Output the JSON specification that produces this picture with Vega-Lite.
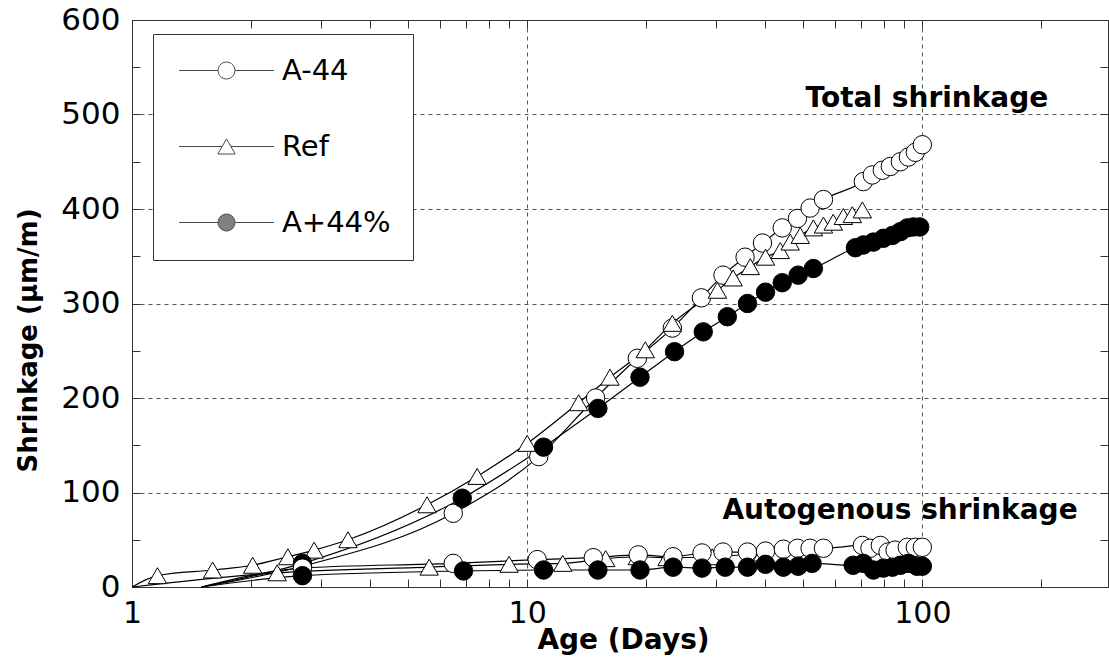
{
  "$schema": "https://vega.github.io/schema/vega-lite/v6.json",
  "width": 976,
  "height": 567,
  "autosize": "none",
  "padding": {"left": 132, "top": 20, "right": 1, "bottom": 73},
  "background": "white",
  "config": {
    "view": {"stroke": null},
    "font": "DejaVu Sans"
  },
  "data": {
    "values": [
      {"age": 1.5, "shrinkage": 0, "mix": "A-44", "type": "Total"},
      {"age": 2.7, "shrinkage": 22, "mix": "A-44", "type": "Total"},
      {"age": 6.5, "shrinkage": 78, "mix": "A-44", "type": "Total"},
      {"age": 10.7, "shrinkage": 138, "mix": "A-44", "type": "Total"},
      {"age": 14.9, "shrinkage": 200, "mix": "A-44", "type": "Total"},
      {"age": 19.0, "shrinkage": 242, "mix": "A-44", "type": "Total"},
      {"age": 23.3, "shrinkage": 274, "mix": "A-44", "type": "Total"},
      {"age": 27.6, "shrinkage": 306, "mix": "A-44", "type": "Total"},
      {"age": 31.3, "shrinkage": 330, "mix": "A-44", "type": "Total"},
      {"age": 35.6, "shrinkage": 349, "mix": "A-44", "type": "Total"},
      {"age": 39.4, "shrinkage": 364, "mix": "A-44", "type": "Total"},
      {"age": 44.2, "shrinkage": 380, "mix": "A-44", "type": "Total"},
      {"age": 48.3, "shrinkage": 390, "mix": "A-44", "type": "Total"},
      {"age": 52.0, "shrinkage": 401, "mix": "A-44", "type": "Total"},
      {"age": 56.2, "shrinkage": 410, "mix": "A-44", "type": "Total"},
      {"age": 70.9, "shrinkage": 429, "mix": "A-44", "type": "Total"},
      {"age": 74.7, "shrinkage": 436, "mix": "A-44", "type": "Total"},
      {"age": 79.2, "shrinkage": 441, "mix": "A-44", "type": "Total"},
      {"age": 83.0, "shrinkage": 445, "mix": "A-44", "type": "Total"},
      {"age": 88.0, "shrinkage": 450, "mix": "A-44", "type": "Total"},
      {"age": 92.2, "shrinkage": 455, "mix": "A-44", "type": "Total"},
      {"age": 96.0, "shrinkage": 460, "mix": "A-44", "type": "Total"},
      {"age": 100, "shrinkage": 468, "mix": "A-44", "type": "Total"},

      {"age": 1.0, "shrinkage": 0, "mix": "Ref", "type": "Total"},
      {"age": 1.16, "shrinkage": 12, "mix": "Ref", "type": "Total"},
      {"age": 1.6, "shrinkage": 18, "mix": "Ref", "type": "Total"},
      {"age": 2.02, "shrinkage": 23, "mix": "Ref", "type": "Total"},
      {"age": 2.48, "shrinkage": 32, "mix": "Ref", "type": "Total"},
      {"age": 2.89, "shrinkage": 39, "mix": "Ref", "type": "Total"},
      {"age": 3.52, "shrinkage": 50, "mix": "Ref", "type": "Total"},
      {"age": 5.58, "shrinkage": 87, "mix": "Ref", "type": "Total"},
      {"age": 7.47, "shrinkage": 117, "mix": "Ref", "type": "Total"},
      {"age": 10.0, "shrinkage": 152, "mix": "Ref", "type": "Total"},
      {"age": 13.5, "shrinkage": 195, "mix": "Ref", "type": "Total"},
      {"age": 16.2, "shrinkage": 222, "mix": "Ref", "type": "Total"},
      {"age": 19.9, "shrinkage": 251, "mix": "Ref", "type": "Total"},
      {"age": 23.3, "shrinkage": 279, "mix": "Ref", "type": "Total"},
      {"age": 30.3, "shrinkage": 314, "mix": "Ref", "type": "Total"},
      {"age": 33.2, "shrinkage": 327, "mix": "Ref", "type": "Total"},
      {"age": 36.7, "shrinkage": 339, "mix": "Ref", "type": "Total"},
      {"age": 40.1, "shrinkage": 349, "mix": "Ref", "type": "Total"},
      {"age": 43.7, "shrinkage": 356, "mix": "Ref", "type": "Total"},
      {"age": 46.3, "shrinkage": 365, "mix": "Ref", "type": "Total"},
      {"age": 49.1, "shrinkage": 372, "mix": "Ref", "type": "Total"},
      {"age": 53.0, "shrinkage": 380, "mix": "Ref", "type": "Total"},
      {"age": 56.2, "shrinkage": 383, "mix": "Ref", "type": "Total"},
      {"age": 59.5, "shrinkage": 386, "mix": "Ref", "type": "Total"},
      {"age": 63.1, "shrinkage": 392, "mix": "Ref", "type": "Total"},
      {"age": 66.5, "shrinkage": 394, "mix": "Ref", "type": "Total"},
      {"age": 70.5, "shrinkage": 399, "mix": "Ref", "type": "Total"},

      {"age": 1.5, "shrinkage": 0, "mix": "A+44%", "type": "Total"},
      {"age": 2.7, "shrinkage": 25, "mix": "A+44%", "type": "Total"},
      {"age": 6.85, "shrinkage": 94, "mix": "A+44%", "type": "Total"},
      {"age": 11.0, "shrinkage": 148, "mix": "A+44%", "type": "Total"},
      {"age": 15.1, "shrinkage": 189, "mix": "A+44%", "type": "Total"},
      {"age": 19.3, "shrinkage": 222, "mix": "A+44%", "type": "Total"},
      {"age": 23.6, "shrinkage": 249, "mix": "A+44%", "type": "Total"},
      {"age": 27.9, "shrinkage": 270, "mix": "A+44%", "type": "Total"},
      {"age": 32.1, "shrinkage": 286, "mix": "A+44%", "type": "Total"},
      {"age": 36.1, "shrinkage": 300, "mix": "A+44%", "type": "Total"},
      {"age": 40.1, "shrinkage": 312, "mix": "A+44%", "type": "Total"},
      {"age": 44.2, "shrinkage": 322, "mix": "A+44%", "type": "Total"},
      {"age": 48.5, "shrinkage": 330, "mix": "A+44%", "type": "Total"},
      {"age": 53.0, "shrinkage": 337, "mix": "A+44%", "type": "Total"},
      {"age": 67.7, "shrinkage": 359, "mix": "A+44%", "type": "Total"},
      {"age": 70.9, "shrinkage": 362, "mix": "A+44%", "type": "Total"},
      {"age": 75.2, "shrinkage": 365, "mix": "A+44%", "type": "Total"},
      {"age": 79.7, "shrinkage": 369, "mix": "A+44%", "type": "Total"},
      {"age": 84.0, "shrinkage": 372, "mix": "A+44%", "type": "Total"},
      {"age": 88.0, "shrinkage": 376, "mix": "A+44%", "type": "Total"},
      {"age": 91.6, "shrinkage": 380, "mix": "A+44%", "type": "Total"},
      {"age": 94.9, "shrinkage": 381, "mix": "A+44%", "type": "Total"},
      {"age": 98.5, "shrinkage": 381, "mix": "A+44%", "type": "Total"},

      {"age": 1.0, "shrinkage": 0, "mix": "Ref", "type": "Autogenous"},
      {"age": 2.33, "shrinkage": 15, "mix": "Ref", "type": "Autogenous"},
      {"age": 5.65, "shrinkage": 21, "mix": "Ref", "type": "Autogenous"},
      {"age": 9.0, "shrinkage": 24, "mix": "Ref", "type": "Autogenous"},
      {"age": 12.3, "shrinkage": 25, "mix": "Ref", "type": "Autogenous"},
      {"age": 15.8, "shrinkage": 30, "mix": "Ref", "type": "Autogenous"},
      {"age": 19.0, "shrinkage": 32, "mix": "Ref", "type": "Autogenous"},
      {"age": 22.6, "shrinkage": 31, "mix": "Ref", "type": "Autogenous"},
      {"age": 29.4, "shrinkage": 32, "mix": "Ref", "type": "Autogenous"},
      {"age": 39.4, "shrinkage": 36, "mix": "Ref", "type": "Autogenous"},

      {"age": 1.5, "shrinkage": 0, "mix": "A-44", "type": "Autogenous"},
      {"age": 2.7, "shrinkage": 20, "mix": "A-44", "type": "Autogenous"},
      {"age": 6.5, "shrinkage": 25, "mix": "A-44", "type": "Autogenous"},
      {"age": 10.6, "shrinkage": 29, "mix": "A-44", "type": "Autogenous"},
      {"age": 14.7, "shrinkage": 31, "mix": "A-44", "type": "Autogenous"},
      {"age": 19.1, "shrinkage": 34, "mix": "A-44", "type": "Autogenous"},
      {"age": 23.4, "shrinkage": 32, "mix": "A-44", "type": "Autogenous"},
      {"age": 27.7, "shrinkage": 36, "mix": "A-44", "type": "Autogenous"},
      {"age": 31.3, "shrinkage": 37, "mix": "A-44", "type": "Autogenous"},
      {"age": 36.1, "shrinkage": 37, "mix": "A-44", "type": "Autogenous"},
      {"age": 40.1, "shrinkage": 38, "mix": "A-44", "type": "Autogenous"},
      {"age": 44.5, "shrinkage": 40, "mix": "A-44", "type": "Autogenous"},
      {"age": 48.3, "shrinkage": 41, "mix": "A-44", "type": "Autogenous"},
      {"age": 52.0, "shrinkage": 41, "mix": "A-44", "type": "Autogenous"},
      {"age": 56.2, "shrinkage": 41, "mix": "A-44", "type": "Autogenous"},
      {"age": 70.5, "shrinkage": 44, "mix": "A-44", "type": "Autogenous"},
      {"age": 73.7, "shrinkage": 41, "mix": "A-44", "type": "Autogenous"},
      {"age": 78.3, "shrinkage": 44, "mix": "A-44", "type": "Autogenous"},
      {"age": 81.9, "shrinkage": 37, "mix": "A-44", "type": "Autogenous"},
      {"age": 85.3, "shrinkage": 39, "mix": "A-44", "type": "Autogenous"},
      {"age": 91.6, "shrinkage": 42, "mix": "A-44", "type": "Autogenous"},
      {"age": 96.0, "shrinkage": 42, "mix": "A-44", "type": "Autogenous"},
      {"age": 100, "shrinkage": 42, "mix": "A-44", "type": "Autogenous"},

      {"age": 1.5, "shrinkage": 0, "mix": "A+44%", "type": "Autogenous"},
      {"age": 2.7, "shrinkage": 12, "mix": "A+44%", "type": "Autogenous"},
      {"age": 6.9, "shrinkage": 17, "mix": "A+44%", "type": "Autogenous"},
      {"age": 11.0, "shrinkage": 18, "mix": "A+44%", "type": "Autogenous"},
      {"age": 15.1, "shrinkage": 18, "mix": "A+44%", "type": "Autogenous"},
      {"age": 19.3, "shrinkage": 18, "mix": "A+44%", "type": "Autogenous"},
      {"age": 23.4, "shrinkage": 21, "mix": "A+44%", "type": "Autogenous"},
      {"age": 27.7, "shrinkage": 20, "mix": "A+44%", "type": "Autogenous"},
      {"age": 31.7, "shrinkage": 21, "mix": "A+44%", "type": "Autogenous"},
      {"age": 36.1, "shrinkage": 21, "mix": "A+44%", "type": "Autogenous"},
      {"age": 40.1, "shrinkage": 24, "mix": "A+44%", "type": "Autogenous"},
      {"age": 44.5, "shrinkage": 21, "mix": "A+44%", "type": "Autogenous"},
      {"age": 48.5, "shrinkage": 22, "mix": "A+44%", "type": "Autogenous"},
      {"age": 52.6, "shrinkage": 25, "mix": "A+44%", "type": "Autogenous"},
      {"age": 66.8, "shrinkage": 23, "mix": "A+44%", "type": "Autogenous"},
      {"age": 70.9, "shrinkage": 25, "mix": "A+44%", "type": "Autogenous"},
      {"age": 75.2, "shrinkage": 18, "mix": "A+44%", "type": "Autogenous"},
      {"age": 79.7, "shrinkage": 20, "mix": "A+44%", "type": "Autogenous"},
      {"age": 84.0, "shrinkage": 21, "mix": "A+44%", "type": "Autogenous"},
      {"age": 88.0, "shrinkage": 23, "mix": "A+44%", "type": "Autogenous"},
      {"age": 92.2, "shrinkage": 25, "mix": "A+44%", "type": "Autogenous"},
      {"age": 96.9, "shrinkage": 22, "mix": "A+44%", "type": "Autogenous"},
      {"age": 100, "shrinkage": 22, "mix": "A+44%", "type": "Autogenous"}
    ]
  },
  "resolve": {"axis": {"x": "independent", "y": "independent"}},
  "layer": [
    {
      "mark": {"type": "line", "color": "black", "strokeWidth": 1.2, "interpolate": "monotone"},
      "encoding": {
        "x": {
          "field": "age", "type": "quantitative",
          "scale": {"type": "log", "domain": [1, 295], "nice": false},
          "axis": {
            "orient": "bottom",
            "values": [1, 2, 3, 4, 5, 6, 7, 8, 9, 10, 20, 30, 40, 50, 60, 70, 80, 90, 100, 200],
            "labelExpr": "datum.value == 1 ? '1' : datum.value == 10 ? '10' : datum.value == 100 ? '100' : ''",
            "labelOverlap": false,
            "labelFlush": false,
            "labelFont": "DejaVu Sans",
            "labelFontSize": 30,
            "labelColor": "black",
            "labelPadding": 19,
            "tickSize": -8,
            "tickColor": "#333",
            "domainColor": "#333",
            "grid": true,
            "gridDash": [4, 4],
            "gridColor": "#555",
            "gridOpacity": {"condition": {"test": "datum.value == 10 || datum.value == 100", "value": 1}, "value": 0},
            "title": "Age (Days)",
            "titleFont": "DejaVu Sans",
            "titleFontWeight": "bold",
            "titleFontSize": 28,
            "titleColor": "black",
            "titleX": 491,
            "titleY": 61,
            "titleAlign": "center",
            "titleBaseline": "alphabetic"
          }
        },
        "y": {
          "field": "shrinkage", "type": "quantitative",
          "scale": {"domain": [0, 600], "nice": false},
          "axis": {
            "orient": "left",
            "values": [0, 50, 100, 150, 200, 250, 300, 350, 400, 450, 500, 550, 600],
            "labelExpr": "datum.value % 100 == 0 ? datum.label : ''",
            "labelOverlap": false,
            "labelFlush": false,
            "labelFont": "DejaVu Sans",
            "labelFontSize": 31,
            "labelColor": "black",
            "labelPadding": 20,
            "tickSize": -8,
            "tickColor": "#333",
            "domainColor": "#333",
            "grid": true,
            "gridDash": [4, 4],
            "gridColor": "#555",
            "gridOpacity": {"condition": {"test": "datum.value % 100 == 0 && datum.value > 0 && datum.value < 600", "value": 1}, "value": 0},
            "title": "Shrinkage (μm/m)",
            "titleFont": "DejaVu Sans",
            "titleFontWeight": "bold",
            "titleFontSize": 26,
            "titleColor": "black",
            "titleX": -104,
            "titleY": 320,
            "titleAngle": 270,
            "titleAlign": "center",
            "titleBaseline": "middle"
          }
        },
        "detail": [{"field": "mix"}, {"field": "type"}]
      }
    },
    {
      "transform": [{"filter": "datum.shrinkage > 0"}],
      "mark": {"type": "point", "filled": true, "stroke": "black", "strokeWidth": 1, "size": 340, "opacity": 1},
      "encoding": {
        "x": {
          "field": "age", "type": "quantitative",
          "scale": {"type": "log", "domain": [1, 295], "nice": false},
          "axis": {
            "orient": "top",
            "values": [1, 2, 3, 4, 5, 6, 7, 8, 9, 10, 20, 30, 40, 50, 60, 70, 80, 90, 100, 200],
            "labels": false,
            "tickSize": -8,
            "tickColor": "#333",
            "domainColor": "#333",
            "grid": false,
            "title": null
          }
        },
        "y": {
          "field": "shrinkage", "type": "quantitative",
          "scale": {"domain": [0, 600], "nice": false},
          "axis": {
            "orient": "right",
            "values": [0, 50, 100, 150, 200, 250, 300, 350, 400, 450, 500, 550, 600],
            "labels": false,
            "tickSize": -8,
            "tickColor": "#333",
            "domainColor": "#333",
            "grid": false,
            "title": null
          }
        },
        "shape": {"condition": {"test": "datum.mix === 'Ref'", "value": "triangle-up"}, "value": "circle"},
        "fill": {"condition": {"test": "datum.mix === 'A+44%'", "value": "black"}, "value": "white"}
      }
    },
    {
      "transform": [{"filter": "datum.shrinkage < 0"}],
      "mark": {"type": "point", "filled": true, "strokeWidth": 1},
      "encoding": {
        "shape": {
          "field": "mix", "type": "nominal",
          "scale": {
            "domain": ["A-44", "Ref", "A+44%"],
            "range": [
              "M-4.75,0L-0.85,0M0.85,0L4.75,0M0.85,0L0.808,0.263L0.688,0.5L0.5,0.688L0.263,0.808L0,0.85L-0.263,0.808L-0.5,0.688L-0.688,0.5L-0.808,0.263L-0.85,0L-0.808,-0.263L-0.688,-0.5L-0.5,-0.688L-0.263,-0.808L0,-0.85L0.263,-0.808L0.5,-0.688L0.688,-0.5L0.808,-0.263Z",
              "M-4.75,0L-0.44,0M0.44,0L4.75,0M0,-0.75L0.87,0.75L-0.87,0.75Z",
              "M-4.75,0L-0.85,0M0.85,0L4.75,0M0.85,0L0.808,0.263L0.688,0.5L0.5,0.688L0.263,0.808L0,0.85L-0.263,0.808L-0.5,0.688L-0.688,0.5L-0.808,0.263L-0.85,0L-0.808,-0.263L-0.688,-0.5L-0.5,-0.688L-0.263,-0.808L0,-0.85L0.263,-0.808L0.5,-0.688L0.688,-0.5L0.808,-0.263Z"
            ]
          },
          "legend": {
            "title": null, "orient": "none", "legendX": 21, "legendY": 14, "padding": 22,
            "fillColor": "white", "strokeColor": "#333", "symbolSize": 400, "symbolOffset": 37,
            "symbolStrokeWidth": 1, "labelOffset": 41, "labelFont": "DejaVu Sans", "labelFontSize": 29,
            "labelColor": "black", "labelLimit": 400, "rowPadding": 46
          }
        },
        "fill": {
          "field": "mix", "type": "nominal",
          "scale": {"domain": ["A-44", "Ref", "A+44%"], "range": ["white", "white", "black"]},
          "legend": {
            "title": null, "orient": "none", "legendX": 21, "legendY": 14, "padding": 22,
            "fillColor": "white", "strokeColor": "#333", "symbolSize": 400, "symbolOffset": 37,
            "symbolStrokeWidth": 1, "labelOffset": 41, "labelFont": "DejaVu Sans", "labelFontSize": 29,
            "labelColor": "black", "labelLimit": 400, "rowPadding": 46
          }
        },
        "stroke": {
          "field": "mix", "type": "nominal",
          "scale": {"domain": ["A-44", "Ref", "A+44%"], "range": ["black", "black", "black"]},
          "legend": {
            "title": null, "orient": "none", "legendX": 21, "legendY": 14, "padding": 22,
            "fillColor": "white", "strokeColor": "#333", "symbolSize": 400, "symbolOffset": 37,
            "symbolStrokeWidth": 1, "labelOffset": 41, "labelFont": "DejaVu Sans", "labelFontSize": 29,
            "labelColor": "black", "labelLimit": 400, "rowPadding": 46
          }
        }
      }
    },
    {
      "data": {"values": [{}]},
      "mark": {"type": "text", "text": "Total shrinkage", "font": "DejaVu Sans", "fontWeight": "bold", "fontSize": 28, "align": "center", "baseline": "alphabetic", "color": "black"},
      "encoding": {
        "x": {"datum": 102.7, "type": "quantitative", "scale": {"type": "log", "domain": [1, 295], "nice": false}, "axis": null},
        "y": {"datum": 508, "type": "quantitative", "scale": {"domain": [0, 600], "nice": false}, "axis": null}
      }
    },
    {
      "data": {"values": [{}]},
      "mark": {"type": "text", "text": "Autogenous shrinkage", "font": "DejaVu Sans", "fontWeight": "bold", "fontSize": 28, "align": "center", "baseline": "alphabetic", "color": "black"},
      "encoding": {
        "x": {"datum": 87.8, "type": "quantitative", "scale": {"type": "log", "domain": [1, 295], "nice": false}, "axis": null},
        "y": {"datum": 72, "type": "quantitative", "scale": {"domain": [0, 600], "nice": false}, "axis": null}
      }
    }
  ]
}
